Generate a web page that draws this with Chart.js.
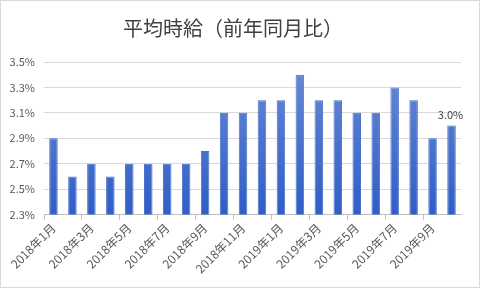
<!DOCTYPE html>
<html>
<head>
<meta charset="utf-8">
<script src="https://cdn.jsdelivr.net/npm/chart.js@4"></script>
<style>
  html, body { margin: 0; padding: 0; background: #fff; }
  #wrap { width: 480px; height: 288px; box-sizing: border-box; border: 1px solid #d9d9d9; position: relative; }
</style>
</head>
<body>
<div id="wrap"><canvas id="chart" width="478" height="286"></canvas></div>
<script>
const months = ['2018年1月','2018年2月','2018年3月','2018年4月','2018年5月','2018年6月','2018年7月','2018年8月','2018年9月','2018年10月','2018年11月','2018年12月',
                '2019年1月','2019年2月','2019年3月','2019年4月','2019年5月','2019年6月','2019年7月','2019年8月','2019年9月','2019年10月'];
const wageGrowth = [2.9, 2.6, 2.7, 2.6, 2.7, 2.7, 2.7, 2.7, 2.8, 3.1, 3.1, 3.2, 3.2, 3.4, 3.2, 3.2, 3.1, 3.1, 3.3, 3.2, 2.9, 3.0];
const yTicks = [2.3, 2.5, 2.7, 2.9, 3.1, 3.3, 3.5];
const labelledIndex = [21];

const font = "'Noto Sans CJK JP', 'Noto Sans', sans-serif";

const lastLabel = {
  id: 'lastLabel',
  afterDatasetsDraw(chart) {
    const ctx = chart.ctx;
    const meta = chart.getDatasetMeta(0);
    ctx.save();
    ctx.font = '11px ' + font;
    ctx.fillStyle = '#404040';
    ctx.textAlign = 'center';
    ctx.textBaseline = 'bottom';
    labelledIndex.forEach(i => {
      const el = meta.data[i];
      ctx.fillText(wageGrowth[i].toFixed(1) + '%', el.x - 1, el.y - 5);
    });
    ctx.restore();
  }
};

const ctx = document.getElementById('chart').getContext('2d');
new Chart(ctx, {
  type: 'bar',
  data: {
    labels: months,
    datasets: [{
      data: wageGrowth,
      backgroundColor: function(c) {
        const area = c.chart.chartArea;
        if (!area) return '#3d6bcc';
        const g = c.chart.ctx.createLinearGradient(0, area.top, 0, area.bottom);
        g.addColorStop(0, '#6a8ad4');
        g.addColorStop(1, '#2f5ec6');
        return g;
      },
      borderColor: '#4a72cc',
      borderWidth: 1,
      barPercentage: 0.45,
      categoryPercentage: 1
    }]
  },
  plugins: [lastLabel],
  options: {
    responsive: false,
    animation: false,
    layout: { padding: { top: 4, right: 18, left: 4, bottom: 10 } },
    plugins: {
      legend: { display: false },
      tooltip: { enabled: false },
      title: {
        display: true,
        text: '平均時給（前年同月比）',
        color: '#404040',
        font: { family: font, size: 20, weight: 'normal' },
        padding: { top: 11, bottom: 22 }
      }
    },
    scales: {
      x: {
        offset: true,
        grid: {
          offset: true,
          drawOnChartArea: false,
          tickLength: 5,
          color: c => (c.index % 2 === 0 ? '#bfbfbf' : 'rgba(0,0,0,0)')
        },
        border: { color: '#bfbfbf' },
        ticks: {
          autoSkip: false,
          maxRotation: 45,
          minRotation: 45,
          color: '#595959',
          font: { family: font, size: 12 },
          padding: 1,
          callback: (v, i) => (i % 2 === 0 ? months[i] : '')
        }
      },
      y: {
        min: 2.3,
        max: 3.5,
        afterBuildTicks: s => { s.ticks = yTicks.map(v => ({ value: v })); },
        afterFit: s => { s.width = 39; },
        grid: { color: '#d9d9d9', drawTicks: false },
        border: { display: false },
        ticks: {
          color: '#595959',
          font: { family: font, size: 11 },
          padding: 9,
          callback: v => v.toFixed(1) + '%'
        }
      }
    }
  }
});
</script>
</body>
</html>
